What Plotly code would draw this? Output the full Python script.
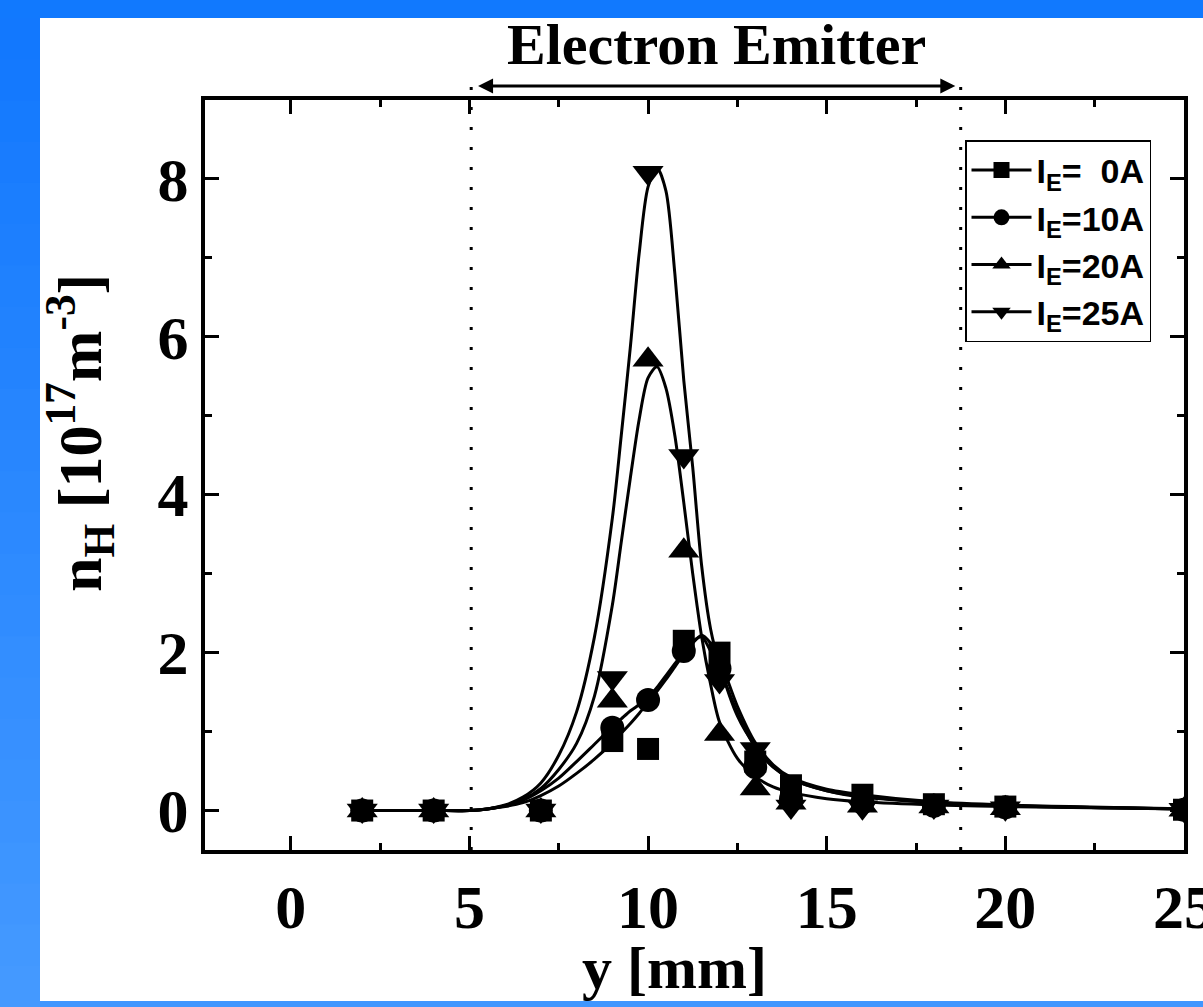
import plotly.graph_objects as go

# ---------------- data ----------------
y_pos = [2, 4, 7, 9, 10, 11, 12, 13, 14, 16, 18, 20, 25]   # measurement positions [mm]

n_0A  = [0.0, 0.0, 0.0, 0.88, 0.78, 2.15, 2.00, 0.62, 0.32, 0.20, 0.08, 0.05, 0.01]
n_10A = [0.0, 0.0, 0.0, 1.05, 1.40, 2.02, 1.80, 0.55, 0.15, 0.10, 0.06, 0.04, 0.01]
n_20A = [0.0, 0.0, 0.0, 1.39, 5.71, 3.29, 0.97, 0.28, 0.10, 0.06, 0.05, 0.03, 0.01]
n_25A = [0.0, 0.0, 0.0, 1.68, 8.08, 4.49, 1.64, 0.78, 0.05, 0.04, 0.05, 0.03, 0.01]

# fitted curves
fit_x = [2, 4, 5, 5.5, 6, 6.5, 7, 7.5, 8, 8.5, 9, 9.25, 9.5, 9.75, 10, 10.25, 10.5,
         10.75, 11, 11.25, 11.5, 11.75, 12, 12.5, 13, 13.5, 14, 15, 16, 18, 20, 25]
fit_0A  = [0, 0, 0, 0.02, 0.05, 0.10, 0.19, 0.31, 0.47, 0.65, 0.86, 0.98, 1.10, 1.23, 1.37, 1.51, 1.66,
           1.82, 1.98, 2.12, 2.22, 2.12, 1.92, 1.32, 0.86, 0.58, 0.42, 0.27, 0.20, 0.11, 0.07, 0.02]
fit_10A = [0, 0, 0, 0.02, 0.06, 0.13, 0.25, 0.41, 0.62, 0.84, 1.06, 1.16, 1.26, 1.34, 1.43, 1.56, 1.71,
           1.86, 2.01, 2.14, 2.20, 2.02, 1.80, 1.24, 0.80, 0.55, 0.40, 0.25, 0.18, 0.10, 0.06, 0.02]
fit_20A = [0, 0, 0, 0.02, 0.06, 0.14, 0.28, 0.52, 0.85, 1.45, 2.60, 3.40, 4.20, 4.95, 5.48, 5.62, 5.35,
           4.75, 3.90, 3.00, 2.20, 1.60, 1.12, 0.66, 0.43, 0.30, 0.23, 0.15, 0.11, 0.07, 0.05, 0.02]
fit_25A = [0, 0, 0, 0.02, 0.07, 0.17, 0.35, 0.70, 1.25, 2.20, 3.70, 4.75, 5.85, 7.05, 7.90, 8.14, 7.85,
           6.80, 5.45, 4.35, 3.10, 2.30, 1.85, 1.20, 0.82, 0.56, 0.40, 0.25, 0.17, 0.10, 0.06, 0.02]

series_names = ["I<sub>E</sub>=  0A", "I<sub>E</sub>=10A", "I<sub>E</sub>=20A", "I<sub>E</sub>=25A"]
series_pts = [n_0A, n_10A, n_20A, n_25A]
series_fit = [fit_0A, fit_10A, fit_20A, fit_25A]
symbols = ["square", "circle", "triangle-up", "triangle-down"]
sizes = [22, 24, 27, 27]

x_ticks = [0, 5, 10, 15, 20, 25]
y_ticks = [0, 2, 4, 6, 8]
emitter_start, emitter_end = 5.05, 18.75   # electron emitter extent [mm]

# ---------------- layout geometry ----------------
W, H = 1203, 1007
L, R, T, B = 205, 1184, 100, 850


def pxx(px):
    return (px - L) / (R - L)


def pyy(py):
    return (B - py) / (B - T)


serif = "Liberation Serif"
sans = "Liberation Sans"

fig = go.Figure()

for name, pts, fit, sym, sz in zip(series_names, series_pts, series_fit, symbols, sizes):
    fig.add_trace(go.Scatter(x=fit_x, y=fit, mode="lines",
                             line=dict(color="black", width=3, shape="spline", smoothing=0.8),
                             showlegend=False, hoverinfo="skip"))
    fig.add_trace(go.Scatter(x=y_pos, y=pts, mode="markers", marker=dict(symbol=sym, size=sz, color="black"),
                             showlegend=False))
    # legend entry (line + symbol)
    fig.add_trace(go.Scatter(x=[None], y=[None], mode="lines+markers", name=name, legendgroup=name,
                             line=dict(color="black", width=3), marker=dict(symbol=sym, size=16, color="black")))

shapes = []
# background: blue frame with white page
shapes.append(dict(type="rect", xref="paper", yref="paper", layer="below",
                   x0=pxx(40), x1=pxx(W + 5), y0=pyy(1001), y1=pyy(18),
                   fillcolor="white", line=dict(width=0)))
shapes.append(dict(type="rect", xref="paper", yref="paper", layer="below",
                   x0=pxx(-5), x1=pxx(W + 5), y0=pyy(18), y1=pyy(-5),
                   fillcolor="#1179FE", line=dict(width=0)))
nb = 24
c0 = (0x12, 0x78, 0xFE)
c1 = (0x44, 0x99, 0xFF)
for i in range(nb):
    t = i / (nb - 1)
    c = tuple(round(a + (b - a) * t) for a, b in zip(c0, c1))
    shapes.append(dict(type="rect", xref="paper", yref="paper", layer="below",
                       x0=pxx(-5), x1=pxx(40), y0=pyy(18 + (H - 18) * (i + 1) / nb + 1),
                       y1=pyy(18 + (H - 18) * i / nb),
                       fillcolor="rgb(%d,%d,%d)" % c, line=dict(width=0)))
shapes.append(dict(type="rect", xref="paper", yref="paper", layer="below",
                   x0=pxx(40), x1=pxx(W + 5), y0=pyy(H + 5), y1=pyy(1001),
                   fillcolor="#3F96FF", line=dict(width=0)))
# emitter boundaries (dotted)
for xe in (emitter_start, emitter_end):
    shapes.append(dict(type="line", xref="x", yref="paper", x0=xe, x1=xe, y0=0, y1=pyy(72),
                       line=dict(color="black", width=3, dash="3px,17px")))

annotations = [
    dict(text="Electron Emitter", xref="paper", yref="paper", x=pxx(716), y=pyy(44),
         showarrow=False, font=dict(family=serif, size=58, color="black", weight="bold"),
         xanchor="center", yanchor="middle"),
    dict(text="", xref="x", yref="paper", x=emitter_end - 0.15, y=pyy(86),
         axref="x", ayref="pixel", ax=emitter_start + 0.15, ay=0,
         showarrow=True, arrowhead=2, arrowsize=1, arrowwidth=3, arrowside="end+start", arrowcolor="black"),
    dict(text="y [mm]", xref="paper", yref="paper", x=pxx(674), y=pyy(968),
         showarrow=False, font=dict(family=serif, size=60, color="black", weight="bold"),
         xanchor="center", yanchor="middle"),
    dict(text="n<sub>H</sub> [10<sup>17</sup>m<sup>-3</sup>]", xref="paper", yref="paper",
         x=pxx(80), y=pyy(433), textangle=-90,
         showarrow=False, font=dict(family=serif, size=62, color="black", weight="bold"),
         xanchor="center", yanchor="middle"),
]

axis_common = dict(showgrid=False, zeroline=False, showline=True, linecolor="black", linewidth=4,
                   mirror="ticks", ticks="inside", ticklen=14, tickwidth=3, tickcolor="black",
                   ticklabeloverflow="allow", automargin=False,
                   tickfont=dict(family=serif, size=62, color="black", weight="bold"))

fig.update_layout(
    width=W, height=H, autosize=False,
    margin=dict(l=L, r=W - R, t=T, b=H - B, pad=0, autoexpand=False),
    paper_bgcolor="#1A7FFF", plot_bgcolor="white",
    shapes=shapes, annotations=annotations,
    xaxis=dict(range=[-2.4, 25], tickmode="array", tickvals=x_ticks, ticktext=[str(v) for v in x_ticks],
               minor=dict(dtick=2.5, tick0=0, ticks="inside", ticklen=7, tickwidth=3, tickcolor="black"),
               **axis_common),
    yaxis=dict(range=[-0.5, 9], tickmode="array", tickvals=y_ticks, ticktext=[str(v) for v in y_ticks],
               minor=dict(dtick=1, tick0=0, ticks="inside", ticklen=7, tickwidth=3, tickcolor="black"),
               ticklabelstandoff=0, **axis_common),
    legend=dict(x=pxx(965), y=pyy(140), xanchor="left", yanchor="top",
                bgcolor="white", bordercolor="black", borderwidth=1.5,
                font=dict(family=sans, size=34, color="black", weight="bold"),
                traceorder="grouped", tracegroupgap=0, itemwidth=60),
    showlegend=True,
)

fig.write_html("out.html", config={"displayModeBar": False},
               post_script="document.body.style.margin='0';document.body.style.overflow='hidden';")
